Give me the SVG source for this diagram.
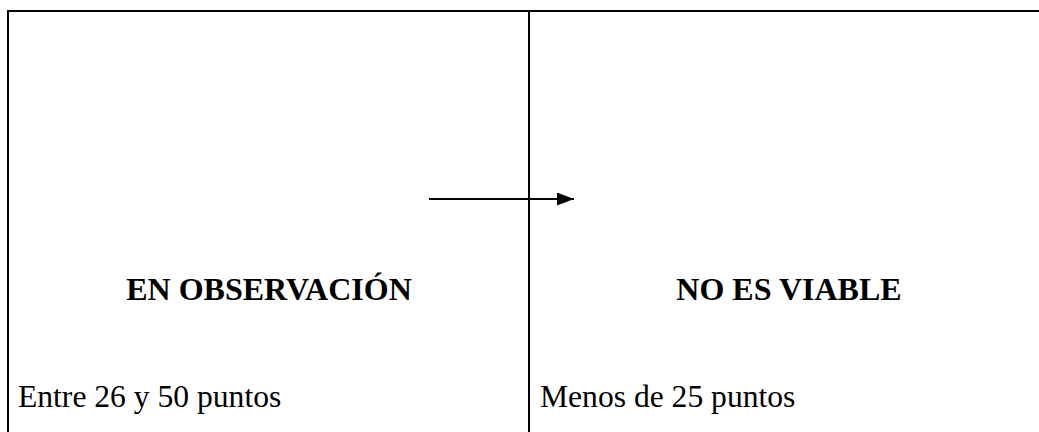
<svg xmlns="http://www.w3.org/2000/svg" width="1039" height="432" viewBox="0 0 1039 432">
<style>
.b{stroke:#000;stroke-width:2;fill:none}
.t{font-family:"Liberation Serif","Times New Roman",serif;font-size:31.6px;fill:#000}
.h{font-weight:bold;font-size:32px;text-anchor:middle}
</style>
<defs>
<marker id="ah" markerWidth="17" markerHeight="13" refX="17" refY="6.5" orient="auto" markerUnits="userSpaceOnUse">
<path d="M0,0 L17,6.5 L0,13 Z" fill="#000"/>
</marker>
</defs>
<rect width="1039" height="432" fill="#fff"/>
<g id="table">
<path class="b" d="M8,432 V11 H1039"/>
<path class="b" d="M529,11 V432"/>
</g>
<g id="node-observacion">
<text class="t h" x="269" y="300">EN OBSERVACIÓN</text>
<text class="t" x="18" y="407">Entre 26 y 50 puntos</text>
</g>
<g id="node-noviable">
<text class="t h" x="789" y="300">NO ES VIABLE</text>
<text class="t" x="540" y="407">Menos de 25 puntos</text>
</g>
<g id="connectors">
<line x1="429" y1="199" x2="574" y2="199" stroke="#000" stroke-width="2" marker-end="url(#ah)"/>
</g>
</svg>
